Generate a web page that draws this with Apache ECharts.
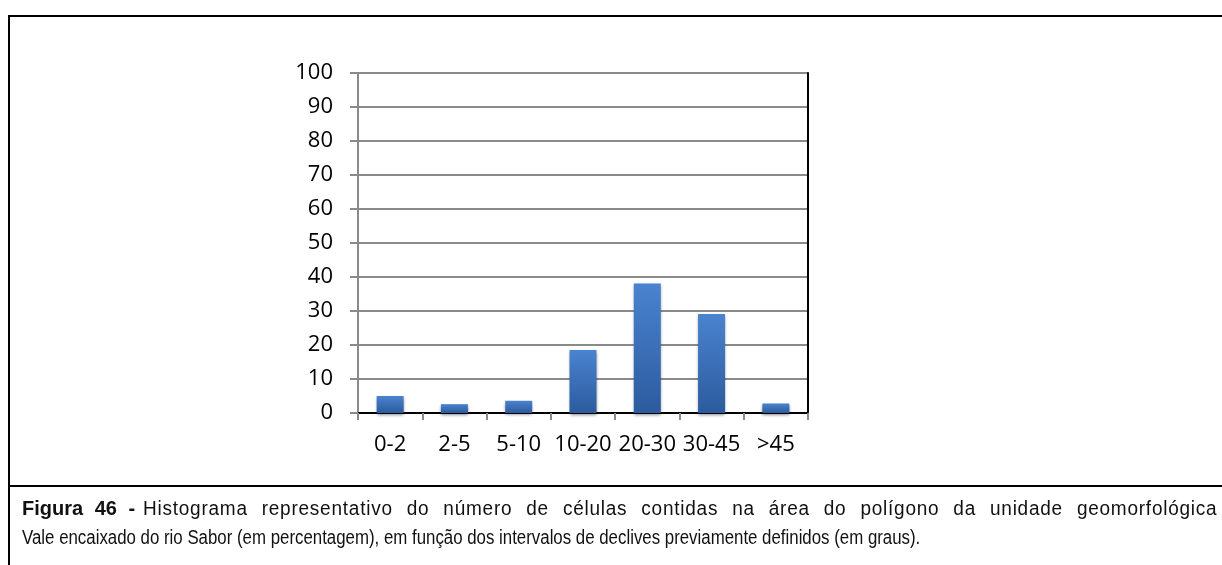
<!DOCTYPE html>
<html>
<head>
<meta charset="utf-8">
<script src="https://cdn.jsdelivr.net/npm/echarts@6/dist/echarts.min.js"></script>
<style>
  html, body { margin: 0; padding: 0; background: #fff; width: 1222px; height: 565px; overflow: hidden; }
  #chart { position: absolute; left: 0; top: 0; width: 1222px; height: 565px; }
  #frame { position: absolute; left: 8px; top: 15px; width: 1230px; height: 600px; border-top: 2px solid #000; border-left: 2px solid #000; pointer-events: none; }
  #sep { position: absolute; left: 8px; top: 485px; width: 1230px; height: 2px; background: #000; }
  .cap { position: absolute; font-family: "Liberation Sans", Arial, sans-serif; font-size: 20px; line-height: 29px; color: #111; white-space: nowrap; }
  #capBold { left: 22px; top: 494px; font-weight: bold; word-spacing: 6px; }
  #cap1 { left: 143px; top: 494px; width: 1131px; transform: scaleX(0.95); transform-origin: 0 0; text-align: justify; text-align-last: justify; white-space: normal; letter-spacing: 0.8px; }
  #cap2 { left: 22px; top: 523px; transform: scaleX(0.842); transform-origin: 0 0; }
</style>
</head>
<body>
<div id="chart"></div>
<div id="frame"></div>
<div id="sep"></div>
<div class="cap" id="capBold">Figura 46 -</div>
<div class="cap" id="cap1">Histograma representativo do número de células contidas na área do polígono da unidade geomorfológica</div>
<div class="cap" id="cap2">Vale encaixado do rio Sabor (em percentagem), em função dos intervalos de declives previamente definidos (em graus).</div>
<script>
const categories = ['0-2', '2-5', '5-10', '10-20', '20-30', '30-45', '>45'];
const values = [5.0, 2.6, 3.6, 18.5, 38.1, 29.1, 2.8];
const yMin = 0, yMax = 100, yStep = 10;

const chart = echarts.init(document.getElementById('chart'), null, { renderer: 'canvas' });
const labelFont = { fontFamily: 'Open Sans', fontSize: 22, color: '#000' };
chart.setOption({
  animation: false,
  backgroundColor: 'transparent',
  grid: { left: 358, right: 414, top: 73, bottom: 152, containLabel: false },
  xAxis: [
    {
      type: 'category', data: categories, position: 'bottom',
      axisLine: { show: true, lineStyle: { color: '#8a8a8a', width: 2 } },
      axisTick: { show: true, inside: false, length: 7, alignWithLabel: false, lineStyle: { color: '#8a8a8a', width: 2 } },
      axisLabel: Object.assign({ margin: 21, interval: 0 }, labelFont),
      splitLine: { show: false }
    },
    {
      type: 'category', data: categories, position: 'top',
      axisLine: { show: true, lineStyle: { color: '#000', width: 2 } },
      axisTick: { show: false }, axisLabel: { show: false }, splitLine: { show: false }
    }
  ],
  yAxis: [
    {
      type: 'value', min: yMin, max: yMax, interval: yStep, position: 'left',
      axisLine: { show: true, lineStyle: { color: '#8a8a8a', width: 2 } },
      axisTick: { show: true, length: 8, lineStyle: { color: '#8a8a8a', width: 2 } },
      axisLabel: Object.assign({ margin: 25 }, labelFont),
      splitLine: { show: true, lineStyle: { color: '#8a8a8a', width: 2 } }
    },
    {
      type: 'value', min: yMin, max: yMax, interval: yStep, position: 'right',
      axisLine: { show: true, lineStyle: { color: '#000', width: 2 } },
      axisTick: { show: false }, axisLabel: { show: false }, splitLine: { show: false }
    }
  ],
  series: [{
    type: 'bar',
    data: values,
    barWidth: '42%',
    itemStyle: {
      color: new echarts.graphic.LinearGradient(0, 0, 0, 1, [
        { offset: 0, color: '#4a83cf' },
        { offset: 1, color: '#2c5b9e' }
      ]),
      shadowColor: 'rgba(0,0,0,0.45)',
      shadowBlur: 3,
      shadowOffsetY: 2
    }
  }]
});
</script>
</body>
</html>
